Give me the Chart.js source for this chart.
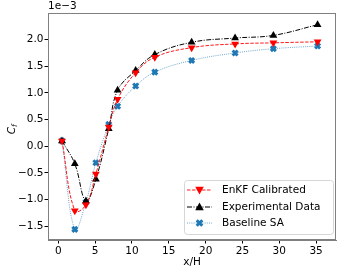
<!DOCTYPE html>
<html>
<head>
<meta charset="utf-8">
<script src="https://cdn.jsdelivr.net/npm/chart.js@4"></script>
<style>
  body { margin: 0; background: #fff; }
  canvas { display: block; }
</style>
</head>
<body>
<canvas id="cf-chart" width="343" height="272"></canvas>
<script>
// values are C_f in units of 1e-3
var xH = [0.5, 2.24, 3.75, 5.1, 6.85, 8.05, 10.5, 13.1, 18.1, 24.0, 29.2, 35.2];
var enkf = [0.10, -1.21, -1.10, -0.52, 0.36, 0.88, 1.38, 1.67, 1.85, 1.92, 1.94, 1.96];
var expData = [0.10, -0.33, -1.03, -0.62, 0.33, 1.05, 1.42, 1.72, 1.95, 2.03, 2.08, 2.28];
var baseline = [0.10, -1.56, -1.05, -0.31, 0.41, 0.75, 1.13, 1.39, 1.61, 1.75, 1.83, 1.88];
var xTicks = [0, 5, 10, 15, 20, 25, 30, 35];
var yTicks = [-1.5, -1.0, -0.5, 0.0, 0.5, 1.0, 1.5, 2.0];

var FONT = "DejaVu Sans";

function pts(ys) {
  return xH.map(function(x, i) { return {x: x, y: ys[i]}; });
}

function markTriangle(ctx, x, y, r, down, color) {
  ctx.save();
  ctx.translate(x, y);
  if (down) ctx.rotate(Math.PI);
  ctx.beginPath();
  ctx.moveTo(0, -r);
  ctx.lineTo(r * 0.95, r * 0.7);
  ctx.lineTo(-r * 0.95, r * 0.7);
  ctx.closePath();
  ctx.fillStyle = color;
  ctx.fill();
  ctx.restore();
}

function markX(ctx, x, y, r, color) {
  ctx.save();
  ctx.strokeStyle = color;
  ctx.lineWidth = 3;
  ctx.beginPath();
  ctx.moveTo(x - r * 0.7, y - r * 0.7); ctx.lineTo(x + r * 0.7, y + r * 0.7);
  ctx.moveTo(x + r * 0.7, y - r * 0.7); ctx.lineTo(x - r * 0.7, y + r * 0.7);
  ctx.stroke();
  ctx.restore();
}

var extras = {
  id: 'extras',
  afterDraw: function(chart) {
    var ctx = chart.ctx;
    var a = chart.chartArea;
    ctx.save();
    // frame
    ctx.strokeStyle = '#808080';
    ctx.lineWidth = 1;
    ctx.strokeRect(a.left + 0.5, a.top + 0.5, a.right - a.left - 1, a.bottom - a.top - 1);

    ctx.fillStyle = '#000';
    ctx.font = "10.5px '" + FONT + "'";
    // offset text
    ctx.textAlign = 'left';
    ctx.textBaseline = 'bottom';
    ctx.fillText('1e\u22123', a.left, a.top - 1);
    // x label
    ctx.textAlign = 'center';
    ctx.textBaseline = 'middle';
    ctx.fillText('x/H', (a.left + a.right) / 2, 262);
    // y label C_f
    ctx.save();
    ctx.translate(12, 128);
    ctx.rotate(-Math.PI / 2);
    ctx.font = "italic 10.5px '" + FONT + "'";
    ctx.textAlign = 'right';
    ctx.fillText('C', 1, 0);
    ctx.font = "italic 7.5px '" + FONT + "'";
    ctx.textAlign = 'left';
    ctx.fillText('f', 1, 3);
    ctx.restore();

    // legend
    var bx = 184, by = 180, bw = 149, bh = 54;
    ctx.beginPath();
    ctx.roundRect(bx + 0.5, by + 0.5, bw, bh, 3);
    ctx.fillStyle = 'rgba(255,255,255,0.85)';
    ctx.fill();
    ctx.strokeStyle = '#d6d6d6';
    ctx.stroke();
    var rows = [190, 207, 223];
    chart.data.datasets.forEach(function(ds, i) {
      var y = rows[i];
      ctx.save();
      ctx.strokeStyle = ds.borderColor;
      ctx.lineWidth = ds.borderWidth;
      ctx.setLineDash(ds.borderDash);
      ctx.beginPath();
      ctx.moveTo(187, y);
      ctx.lineTo(212, y);
      ctx.stroke();
      ctx.restore();
      if (ds.marker === 'down') markTriangle(ctx, 199.5, y, 4.5, true, ds.pointBackgroundColor);
      else if (ds.marker === 'up') markTriangle(ctx, 199.5, y, 4.5, false, ds.pointBackgroundColor);
      else markX(ctx, 199.5, y, 4, ds.pointBackgroundColor);
      ctx.fillStyle = '#000';
      ctx.font = "10.5px '" + FONT + "'";
      ctx.textAlign = 'left';
      ctx.textBaseline = 'middle';
      ctx.fillText(ds.label, 222, y + 0.5);
    });
    ctx.restore();
  }
};

var chart = new Chart(document.getElementById("cf-chart"), {
  type: 'line',
  data: {
    datasets: [{
        label: "EnKF Calibrated",
        marker: 'down',
        data: pts(enkf),
        borderColor: "rgba(255,0,0,0.9)",
        borderWidth: 1,
        borderDash: [3.5, 1.5],
        pointStyle: 'triangle',
        rotation: 180,
        pointRadius: 4.5,
        pointBackgroundColor: "#ff0000",
        pointBorderColor: "#ff0000",
        pointBorderWidth: 0,
        tension: 0.4
      }, {
        label: "Experimental Data",
        marker: 'up',
        data: pts(expData),
        borderColor: "#000000",
        borderWidth: 1,
        borderDash: [5, 1.5, 1, 1.5],
        pointStyle: 'triangle',
        pointRadius: 4.5,
        pointBackgroundColor: "#000000",
        pointBorderColor: "#000000",
        pointBorderWidth: 0,
        tension: 0.4
      }, {
        label: "Baseline SA",
        marker: 'x',
        data: pts(baseline),
        borderColor: "rgba(31,119,180,0.65)",
        borderWidth: 1,
        borderDash: [1, 1.2],
        pointStyle: 'crossRot',
        pointRadius: 3.5,
        pointBackgroundColor: "#1f77b4",
        pointBorderColor: "#1f77b4",
        pointBorderWidth: 3,
        tension: 0.4
      }
    ]
  },
  options: {
    responsive: false,
    animation: false,
    layout: { padding: { top: 13, right: 3, left: 0, bottom: 0 } },
    plugins: {
      legend: { display: false },
      tooltip: { enabled: false }
    },
    scales: {
      x: {
        type: 'linear',
        min: -1.4,
        max: 37.7,
        afterBuildTicks: function(s) { s.ticks = xTicks.map(function(v) { return {value: v}; }); },
        afterFit: function(s) { s.height = 32; },
        ticks: {
          color: '#000',
          padding: 1,
          maxRotation: 0,
          font: { family: FONT, size: 10.5 },
          callback: function(v) { return String(v); }
        },
        grid: { drawOnChartArea: false, drawTicks: true, tickLength: 3.5, color: '#000' },
        border: { color: '#808080' }
      },
      y: {
        min: -1.76,
        max: 2.5,
        afterBuildTicks: function(s) { s.ticks = yTicks.map(function(v) { return {value: v}; }); },
        afterFit: function(s) { s.width = 48; },
        ticks: {
          color: '#000',
          padding: 1,
          font: { family: FONT, size: 10.5 },
          callback: function(v) { return v.toFixed(1).replace('-', '\u2212'); }
        },
        grid: { drawOnChartArea: false, drawTicks: true, tickLength: 3.5, color: '#000' },
        border: { color: '#808080' }
      }
    }
  },
  plugins: [extras]
});
</script>
</body>
</html>
